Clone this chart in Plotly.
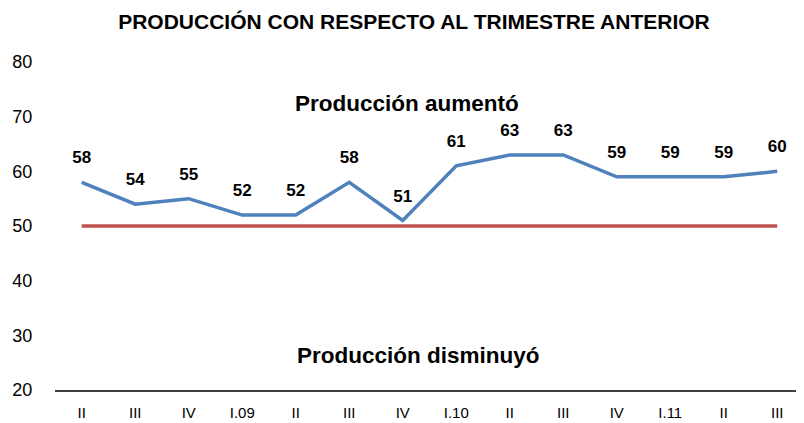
import plotly.graph_objects as go

trimestres = ["II", "III", "IV", "I.09", "II", "III", "IV", "I.10", "II", "III", "IV", "I.11", "II", "III"]
produccion = [58, 54, 55, 52, 52, 58, 51, 61, 63, 63, 59, 59, 59, 60]
umbral = [50] * len(trimestres)
posiciones = list(range(len(trimestres)))

fig = go.Figure()
fig.add_trace(go.Scatter(
    x=posiciones, y=umbral, mode="lines",
    line=dict(color="#c0504d", width=3.5),
    hoverinfo="skip", showlegend=False,
))
# marcadores invisibles solo para separar las etiquetas de la línea
fig.add_trace(go.Scatter(
    x=posiciones, y=produccion, mode="lines+markers+text",
    line=dict(color="#4f81bd", width=3.5),
    marker=dict(size=22, color="rgba(0,0,0,0)"),
    text=[str(v) for v in produccion],
    textposition="top center",
    textfont=dict(family="Liberation Sans, Arial", size=17, color="#000000", weight="bold"),
    showlegend=False,
))

fig.add_annotation(x=6.08, y=72.5, text="<b>Producción aumentó</b>", showarrow=False,
                   font=dict(family="Liberation Sans, Arial", size=22.5, color="#000000"))
fig.add_annotation(x=6.3, y=26.4, text="<b>Producción disminuyó</b>", showarrow=False,
                   font=dict(family="Liberation Sans, Arial", size=22.5, color="#000000"))

fig.update_xaxes(
    range=[-0.5, 13.5], tickvals=posiciones, ticktext=trimestres, automargin=False,
    showline=True, linecolor="#404040", linewidth=2, showgrid=False, zeroline=False,
    ticks="outside", ticklen=8, tickcolor="white",
    tickfont=dict(family="Liberation Sans Narrow, Arial Narrow, Arial", size=15, color="#000000"),
)
fig.update_yaxes(
    range=[20, 80], dtick=10, showline=False, showgrid=False, zeroline=False, automargin=False,
    ticks="outside", ticklen=18, tickcolor="white",
    tickfont=dict(family="Liberation Sans Narrow, Arial Narrow, Arial", size=18, color="#000000"),
)
fig.update_layout(
    width=796, height=415,
    title=dict(text="<b>PRODUCCIÓN CON RESPECTO AL TRIMESTRE ANTERIOR</b>", x=0.51, xanchor="center",
               y=0.968, yanchor="middle",
               font=dict(family="Liberation Sans Narrow, Arial Narrow, Arial", size=21, color="#000000")),
    plot_bgcolor="white", paper_bgcolor="white",
    margin=dict(l=47, r=0, t=54, b=33),
)

fig.write_html("out.html")
